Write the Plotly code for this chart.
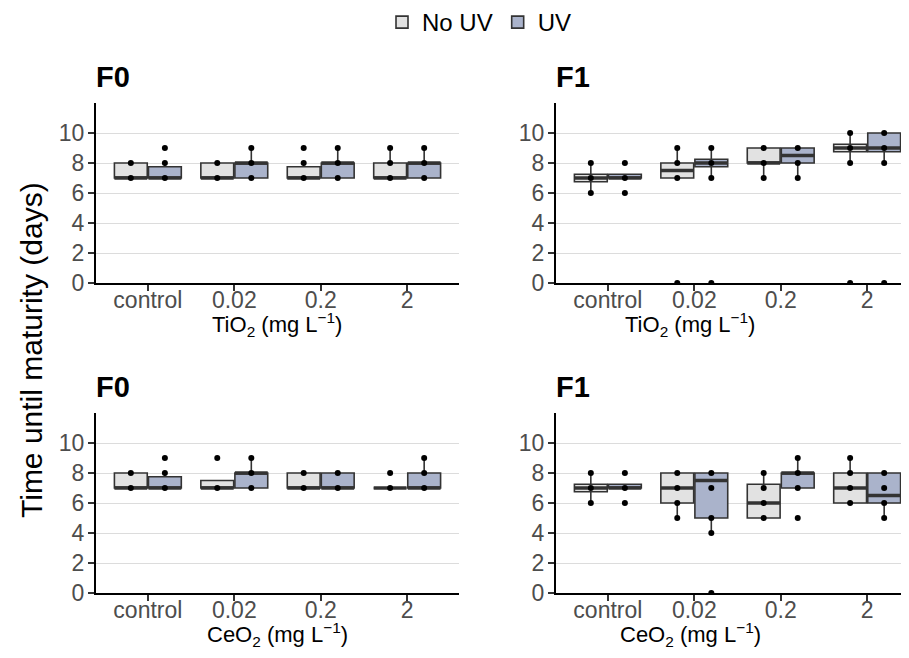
import plotly.graph_objects as go

# ---------------- data ----------------
categories = ["control", "0.02", "0.2", "2"]
series_names = ["No UV", "UV"]

# box statistics per panel and treatment: q1, median, q3, lower / upper whisker ends
tio2_f0_nouv = dict(q1=[7, 7, 7, 7], med=[7, 7, 7, 7], q3=[8, 8, 7.75, 8], lo=[7, 7, 7, 7], hi=[8, 8, 8, 9])
tio2_f0_uv = dict(q1=[7, 7, 7, 7], med=[7, 8, 8, 8], q3=[7.75, 8, 8, 8], lo=[7, 7, 7, 7], hi=[8, 9, 9, 9])
tio2_f1_nouv = dict(q1=[6.75, 7, 8, 8.75], med=[7, 7.5, 8, 9], q3=[7.25, 8, 9, 9.25], lo=[6, 7, 7, 8], hi=[8, 9, 9, 10])
tio2_f1_uv = dict(q1=[7, 7.75, 8, 8.75], med=[7, 8, 8.5, 9], q3=[7.25, 8.25, 9, 10], lo=[7, 7, 7, 8], hi=[7.25, 9, 9, 10])
ceo2_f0_nouv = dict(q1=[7, 7, 7, 7], med=[7, 7, 7, 7], q3=[8, 7.5, 8, 7], lo=[7, 7, 7, 7], hi=[8, 7.5, 8, 7])
ceo2_f0_uv = dict(q1=[7, 7, 7, 7], med=[7, 8, 7, 7], q3=[7.75, 8, 8, 8], lo=[7, 7, 7, 7], hi=[8, 9, 8, 9])
ceo2_f1_nouv = dict(q1=[6.75, 6, 5, 6], med=[7, 7, 6, 7], q3=[7.25, 8, 7.25, 8], lo=[6, 5, 5, 6], hi=[8, 8, 8, 9])
ceo2_f1_uv = dict(q1=[7, 5, 7, 6], med=[7, 7.5, 8, 6.5], q3=[7.25, 8, 8, 8], lo=[7, 4, 7, 5], hi=[7.25, 8, 9, 8])

# observed (distinct) values shown as dots, per category
tio2_f0_nouv_pts = [[7, 8], [7, 8], [7, 8, 9], [7, 8, 9]]
tio2_f0_uv_pts = [[7, 8, 9], [7, 8, 9], [7, 8, 9], [7, 8, 9]]
tio2_f1_nouv_pts = [[6, 7, 8], [0, 7, 8, 9], [7, 8, 9], [0, 8, 9, 10]]
tio2_f1_uv_pts = [[6, 7, 8], [0, 7, 8, 9], [7, 8, 9], [0, 8, 9, 10]]
ceo2_f0_nouv_pts = [[7, 8], [7, 9], [7, 8], [7, 8]]
ceo2_f0_uv_pts = [[7, 8, 9], [7, 8, 9], [7, 8], [7, 8, 9]]
ceo2_f1_nouv_pts = [[6, 7, 8], [5, 6, 7, 8], [5, 6, 7, 8], [6, 7, 8, 9]]
ceo2_f1_uv_pts = [[6, 7, 8], [0, 4, 5, 7, 8], [5, 7, 8, 9], [5, 6, 7, 8]]

panel_titles = ["F0", "F1", "F0", "F1"]
y_ticks = [0, 2, 4, 6, 8, 10]

# ---------------- styling ----------------
FONT = "Liberation Sans, Arial, sans-serif"
FILL = {"No UV": "#e2e2e2", "UV": "#aab3cb"}
OUTLINE = "#333333"
W, H = 909, 658
PAGE = 8  # page body margin: figure is drawn 8 px right/down in the window
BOX_W = 0.38
OFFSET = {"No UV": -0.197, "UV": 0.197}

panels = [
    dict(nouv=tio2_f0_nouv, uv=tio2_f0_uv, pn=tio2_f0_nouv_pts, pu=tio2_f0_uv_pts, ax="x", ay="y"),
    dict(nouv=tio2_f1_nouv, uv=tio2_f1_uv, pn=tio2_f1_nouv_pts, pu=tio2_f1_uv_pts, ax="x2", ay="y2"),
    dict(nouv=ceo2_f0_nouv, uv=ceo2_f0_uv, pn=ceo2_f0_nouv_pts, pu=ceo2_f0_uv_pts, ax="x3", ay="y3"),
    dict(nouv=ceo2_f1_nouv, uv=ceo2_f1_uv, pn=ceo2_f1_nouv_pts, pu=ceo2_f1_uv_pts, ax="x4", ay="y4"),
]

fig = go.Figure()
for pi, p in enumerate(panels):
    for name, stats, pts in (("No UV", p["nouv"], p["pn"]), ("UV", p["uv"], p["pu"])):
        xs = [i + 1 + OFFSET[name] for i in range(len(categories))]
        fig.add_trace(go.Box(
            x=xs, q1=stats["q1"], median=stats["med"], q3=stats["q3"],
            lowerfence=stats["lo"], upperfence=stats["hi"],
            width=BOX_W, whiskerwidth=0, boxpoints=False,
            fillcolor=FILL[name], line=dict(color=OUTLINE, width=1.6),
            name=name, legendgroup=name, showlegend=(pi == 0),
            xaxis=p["ax"], yaxis=p["ay"], hoverinfo="skip",
        ))
        # thicker median bars (ggplot style)
        mx, my = [], []
        for x, m in zip(xs, stats["med"]):
            mx += [x - BOX_W / 2, x + BOX_W / 2, None]
            my += [m, m, None]
        fig.add_trace(go.Scatter(x=mx, y=my, mode="lines", line=dict(color=OUTLINE, width=3.6),
                                 showlegend=False, xaxis=p["ax"], yaxis=p["ay"], hoverinfo="skip"))
        px_, py_ = [], []
        for x, vals in zip(xs, pts):
            for v in vals:
                px_.append(x)
                py_.append(v)
        fig.add_trace(go.Scatter(x=px_, y=py_, mode="markers", marker=dict(color="black", size=6),
                                 showlegend=False, xaxis=p["ax"], yaxis=p["ay"], hoverinfo="skip"))

# panel geometry in window pixels (converted to figure pixels below)
left_x = (96, 459)
right_x = (556, 909)
top_y = (103, 283)
bot_y = (413, 593)
px_per_unit = (left_x[1] - left_x[0]) / 4.2
right_range = [0.4, 0.4 + (right_x[1] - right_x[0]) / px_per_unit]


def fx(px):
    return (px - PAGE) / W


def fy(py):
    return 1 - (py - PAGE) / H


def xd(a):
    return [fx(a[0]), fx(a[1])]


def yd(a):
    return [fy(a[1]), fy(a[0])]


axis_common = dict(showline=True, linecolor="black", linewidth=2, ticks="outside", ticklen=6,
                   tickwidth=1.6, tickcolor="#333333", zeroline=False, automargin=False,
                   tickfont=dict(family=FONT, size=23, color="#4d4d4d"))
xcommon = dict(axis_common, showgrid=False, tickvals=[1, 2, 3, 4], ticktext=categories,
               ticklabelstandoff=-11)
ycommon = dict(axis_common, showgrid=True, gridcolor="#dcdcdc", gridwidth=1, range=[0, 12], tickvals=y_ticks,
               ticklabelstandoff=-1)

layout_axes = {}
spec = [("x", "y", left_x, top_y, [0.4, 4.6]), ("x2", "y2", right_x, top_y, right_range),
        ("x3", "y3", left_x, bot_y, [0.4, 4.6]), ("x4", "y4", right_x, bot_y, right_range)]
for ax, ay, xp, yp, rng in spec:
    xn = "xaxis" + ax[1:]
    yn = "yaxis" + ay[1:]
    layout_axes[xn] = dict(xcommon, domain=xd(xp), range=rng, anchor=ay)
    layout_axes[yn] = dict(ycommon, domain=yd(yp), anchor=ax)

annotations = []
# panel titles
for (ax, ay, xp, yp, rng), t in zip(spec, panel_titles):
    annotations.append(dict(text="<b>%s</b>" % t, x=fx(xp[0] - 2), y=fy(yp[0] - 26),
                            xref="paper", yref="paper",
                            xanchor="left", yanchor="middle", showarrow=False,
                            font=dict(family=FONT, size=29, color="black")))
# x-axis titles
xtitles = ["TiO<sub>2</sub> (mg L<sup>−1</sup>)", "TiO<sub>2</sub> (mg L<sup>−1</sup>)",
           "CeO<sub>2</sub> (mg L<sup>−1</sup>)", "CeO<sub>2</sub> (mg L<sup>−1</sup>)"]
xcenters = [277, 690, 277, 690]
for (ax, ay, xp, yp, rng), t, xc in zip(spec, xtitles, xcenters):
    annotations.append(dict(text=t, x=fx(xc), y=fy(yp[1] + 41), xref="paper", yref="paper",
                            xanchor="center", yanchor="middle", showarrow=False,
                            font=dict(family=FONT, size=22, color="black")))
# shared y title
annotations.append(dict(text="Time until maturity (days)", x=fx(31), y=fy(350), xref="paper", yref="paper",
                        textangle=-90, xanchor="center", yanchor="middle", showarrow=False,
                        font=dict(family=FONT, size=30, color="black")))

fig.update_layout(
    width=W, height=H, margin=dict(l=0, r=0, t=0, b=0, autoexpand=False),
    paper_bgcolor="white", plot_bgcolor="white",
    font=dict(family=FONT, color="black"),
    showlegend=True,
    legend=dict(orientation="h", x=374 / W, y=1 + 8 / H, xanchor="left", yanchor="top",
                font=dict(family=FONT, size=24, color="black"), itemwidth=30, traceorder="normal",
                bgcolor="rgba(0,0,0,0)"),
    annotations=annotations,
    **layout_axes,
)

fig.write_html("out.html")
